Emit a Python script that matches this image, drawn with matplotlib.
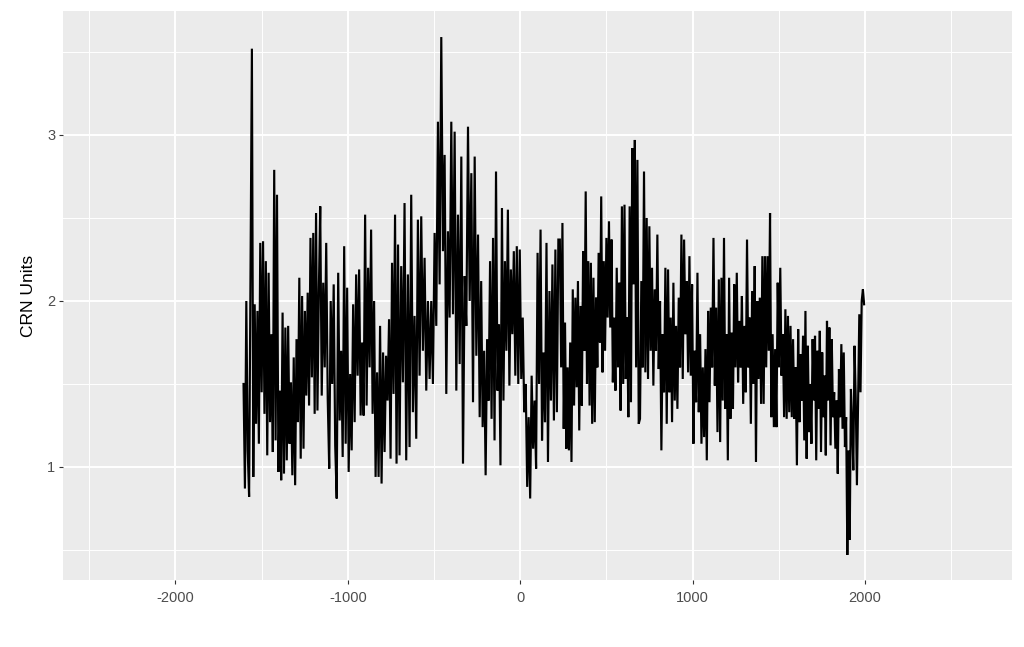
import numpy as np
import matplotlib
matplotlib.use("Agg")
import matplotlib.pyplot as plt

# CRN series (roughly 8-10 year steps)
# segment edges in years
seg_edges = [-1605, -1160, -700, -235, 230, 695, 1160, 1620, 1995]

crn_seg1 = [1.50, 0.87, 2.00, 1.10, 0.82, 2.13, 3.52, 0.94, 1.98, 1.26,
            1.94, 1.14, 2.35, 1.45, 2.36, 1.32, 2.24, 1.07, 2.17, 1.27,
            1.80, 1.09, 2.79, 1.16, 2.64, 0.97, 1.46, 0.92, 1.93, 0.96,
            1.84, 1.04, 1.85, 1.14, 1.51, 0.95, 1.66, 0.89, 1.77, 1.27,
            2.14, 1.05, 2.03, 1.11, 1.94, 1.43, 2.05, 1.37, 2.38, 1.54,
            2.41, 1.32, 2.53, 1.34, 2.06]
crn_seg2 = [2.57, 1.43, 2.11, 1.60, 2.35, 1.41, 0.99, 2.00, 1.50, 2.10,
            1.13, 0.81, 2.17, 1.28, 1.70, 1.06, 2.33, 1.14, 2.08, 0.97,
            1.56, 1.10, 1.98, 1.27, 2.16, 1.55, 2.19, 1.31, 1.75, 1.31,
            2.52, 1.37, 2.20, 1.60, 2.43, 1.32, 2.00, 0.94, 1.57, 0.94,
            1.85, 0.90, 1.69, 1.09, 1.67, 1.40, 1.89, 1.05, 2.23, 1.44,
            2.52, 1.02, 2.34]
crn_seg3 = [1.07, 2.21, 1.51, 2.59, 1.04, 2.16, 1.12, 2.64, 1.33, 1.91,
            1.17, 2.49, 1.55, 2.51, 1.70, 2.26, 1.46, 2.00, 1.53, 2.00,
            1.50, 2.41, 1.85, 3.08, 2.10, 3.59, 2.30, 2.88, 1.44, 2.42,
            1.90, 3.08, 1.92, 3.02, 1.46, 2.52, 1.62, 2.87, 1.02, 2.15,
            1.85, 3.05, 2.00, 2.77, 1.39, 2.87, 1.67, 2.40]
crn_seg4 = [1.30, 2.12, 1.24, 1.70, 0.95, 1.77, 1.40, 2.24, 1.29, 2.38,
            1.16, 2.78, 1.46, 1.86, 1.01, 2.56, 1.40, 2.24, 1.70, 2.55,
            1.49, 2.19, 1.80, 2.30, 1.55, 2.33, 1.50, 2.31, 1.53, 1.90,
            1.33, 1.50, 0.88, 1.30, 0.81, 1.55, 1.11, 1.40, 0.99, 2.29,
            1.50, 2.43, 1.16, 1.69, 1.27, 2.35, 1.03, 2.06, 1.40, 2.22,
            1.28, 2.31, 1.33, 2.37]
crn_seg5 = [2.37, 1.60, 2.47, 1.23, 1.87, 1.11, 1.60, 1.10, 1.75, 1.03,
            2.07, 1.37, 2.02, 1.48, 2.12, 1.22, 1.97, 1.37, 2.30, 1.70,
            2.66, 1.50, 2.24, 1.37, 2.23, 1.26, 2.14, 1.27, 2.02, 1.60,
            2.29, 1.75, 2.63, 1.57, 2.24, 1.70, 2.38, 1.90, 2.48, 1.84,
            2.37, 1.51, 1.90, 1.46, 2.20, 1.60, 2.11, 1.34, 2.57, 1.50,
            2.58, 1.53, 1.90, 1.30, 2.57, 1.39, 2.92, 2.10, 2.97, 1.60,
            2.85, 1.26]
crn_seg6 = [1.29, 2.12, 1.60, 2.78, 1.57, 2.50, 1.53, 2.45, 1.70, 2.20,
            1.49, 2.07, 1.70, 2.40, 1.59, 2.00, 1.10, 1.80, 1.45, 2.20,
            1.26, 2.19, 1.45, 1.90, 1.27, 2.11, 1.40, 1.85, 1.35, 2.02,
            1.60, 2.40, 1.53, 2.37, 1.80, 2.12, 1.57, 2.27, 1.55, 2.10,
            1.14, 1.70, 1.39, 2.17, 1.33, 1.80, 1.14, 1.60, 1.18, 1.71,
            1.04, 1.94, 1.39, 1.96, 1.60, 2.38, 1.49, 1.96, 1.21, 2.13]
crn_seg7 = [1.15, 2.14, 1.40, 2.38, 1.35, 1.80, 1.04, 2.14, 1.29, 1.81,
            1.35, 2.10, 1.60, 2.17, 1.51, 1.88, 1.60, 2.03, 1.38, 1.85,
            1.45, 2.37, 1.60, 1.90, 1.26, 2.06, 1.50, 2.21, 1.03, 2.00,
            1.53, 2.02, 1.38, 2.27, 1.38, 2.27, 1.60, 2.27, 1.70, 2.53,
            1.30, 1.80, 1.24, 1.71, 1.24, 2.11, 1.60, 2.20, 1.55, 1.80,
            1.30, 1.95, 1.29, 1.91, 1.33, 1.85, 1.30, 1.77, 1.29, 1.60,
            1.01, 1.83]
crn_seg8 = [1.27, 1.68, 1.40, 1.79, 1.16, 1.94, 1.05, 1.73, 1.21, 1.50,
            1.14, 1.77, 1.40, 1.79, 1.04, 1.70, 1.35, 1.82, 1.09, 1.69,
            1.30, 1.55, 1.07, 1.88, 1.40, 1.84, 1.13, 1.77, 1.30, 1.45,
            1.11, 1.40, 0.96, 1.59, 1.30, 1.74, 1.23, 1.69, 1.12, 1.30,
            0.47, 1.10, 0.56, 1.47, 1.25, 0.98, 1.73, 1.42, 0.89, 1.43,
            1.92, 1.45, 2.00, 2.07, 1.98]

segments = [crn_seg1, crn_seg2, crn_seg3, crn_seg4,
            crn_seg5, crn_seg6, crn_seg7, crn_seg8]

x_major = [-2000, -1000, 0, 1000, 2000]
y_major = [1, 2, 3]

# Build year axis: values are evenly spread inside each segment
years, crn = [], []
for i, seg in enumerate(segments):
    last = i == len(segments) - 1
    yr = np.linspace(seg_edges[i], seg_edges[i + 1], len(seg), endpoint=last)
    years.extend(yr)
    crn.extend(seg)
years = np.array(years)
crn = np.array(crn)

plt.rcParams['font.family'] = ['Liberation Sans', 'DejaVu Sans']

fig = plt.figure(figsize=(10.24, 6.47), dpi=100)
ax = fig.add_axes([62.7 / 1024, 1 - 580 / 647, (1012 - 62.7) / 1024, (580 - 11) / 647])

# ggplot grey theme
ax.set_facecolor('#EBEBEB')
for s in ax.spines.values():
    s.set_visible(False)

ax.plot(years, crn, color='black', lw=1.55, solid_joinstyle='miter')

ax.set_xlim(-2654, 2853)
ax.set_ylim(0.319, 3.747)
ax.set_xticks(x_major)
ax.set_xticks([-2500, -1500, -500, 500, 1500, 2500], minor=True)
ax.set_yticks(y_major)
ax.set_yticks([0.5, 1.5, 2.5, 3.5], minor=True)
ax.set_xticklabels([str(v) for v in x_major])
ax.set_yticklabels([str(v) for v in y_major])

ax.grid(which='major', color='white', lw=1.4)
ax.grid(which='minor', color='white', lw=0.7)
ax.set_axisbelow(True)

ax.tick_params(which='major', length=2.9, width=0.8, color='#333333',
               labelcolor='#4D4D4D', labelsize=10.5)
ax.tick_params(axis='x', which='major', pad=5)
ax.tick_params(axis='y', which='major', pad=2.5)
ax.tick_params(which='minor', length=0)

ax.set_ylabel('CRN Units', fontsize=12.5, color='black')
ax.yaxis.set_label_coords(-0.028, 0.5)

fig.savefig('out.png', dpi=100)
